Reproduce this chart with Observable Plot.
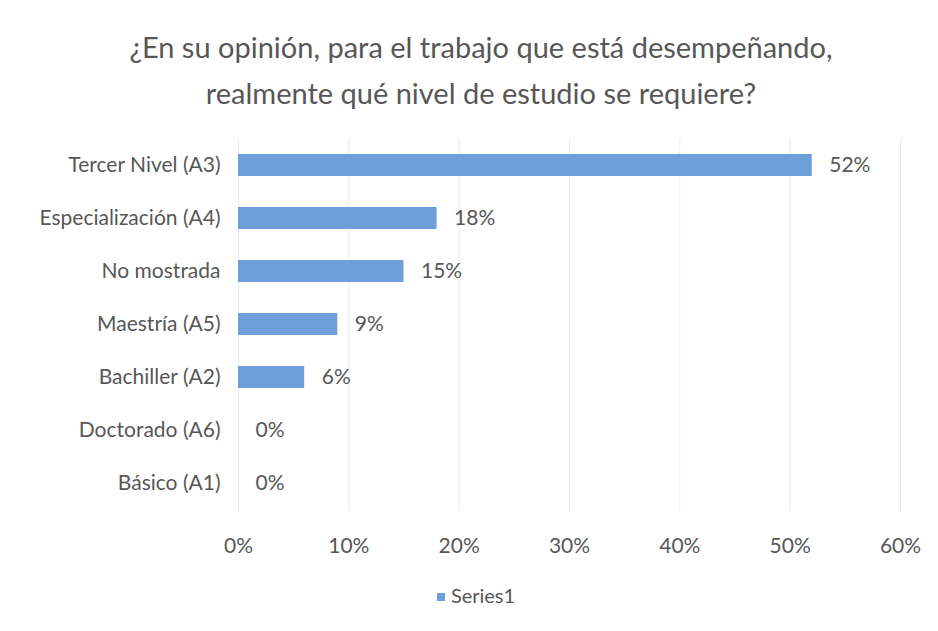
<!DOCTYPE html>
<html>
<head>
<meta charset="utf-8">
<script src="https://cdn.jsdelivr.net/npm/d3@7"></script>
<script src="https://cdn.jsdelivr.net/npm/@observablehq/plot@0.6"></script>
<style>
  html, body { margin: 0; padding: 0; background: #fff; }
  #wrap { position: relative; width: 938px; height: 631px; font-family: Lato, "Open Sans", sans-serif; color: #575757; }
  #title { position: absolute; left: 12px; top: 24px; width: 938px; text-align: center; font-size: 29px; line-height: 46px; }
  #chart { position: absolute; left: 0; top: 115px; }
  #legend { position: absolute; left: 7px; top: 582px; width: 938px; text-align: center; font-size: 20px; line-height: 26px; }
  #legend .sw { display: inline-block; width: 8px; height: 8px; background: #6f9fd8; margin-right: 6px; vertical-align: middle; position: relative; top: -1px; }
</style>
</head>
<body>
<div id="wrap">
  <div id="title">¿En su opinión, para el trabajo que está desempeñando,<br>realmente qué nivel de estudio se requiere?</div>
  <div id="chart"></div>
  <div id="legend"><span class="sw"></span>Series1</div>
</div>
<script>
const categories = ["Tercer Nivel (A3)", "Especialización (A4)", "No mostrada", "Maestría (A5)", "Bachiller (A2)", "Doctorado (A6)", "Básico (A1)"];
const values = [52, 18, 15, 9, 6, 0, 0];
const xTicks = [0, 10, 20, 30, 40, 50, 60];

const data = categories.map((c, i) => ({cat: c, value: values[i]}));

const chart = Plot.plot({
  width: 938,
  height: 445,
  marginTop: 23,
  marginBottom: 49,
  marginLeft: 238,
  marginRight: 38,
  style: {fontFamily: "Lato, 'Open Sans', sans-serif", fontSize: "21px", color: "#575757", background: "#fff"},
  x: {domain: [0, 60]},
  y: {domain: categories, paddingInner: 0.58, paddingOuter: 0.29},
  marks: [
    Plot.gridX(xTicks, {stroke: "#d9d9d9", strokeOpacity: 0.5}),
    Plot.barX(data, {x: "value", y: "cat", fill: "#6f9fd8"}),
    Plot.text(data, {x: "value", y: "cat", text: d => d.value + "%", textAnchor: "start", dx: 17, fontSize: 21, fill: "#575757"}),
    Plot.axisY({tickSize: 0, tickPadding: 18, fontSize: 21, fill: "#575757", label: null}),
    Plot.axisX({ticks: xTicks, tickFormat: d => d + "%", tickSize: 0, tickPadding: 27, fontSize: 21, fill: "#575757", label: null})
  ]
});
document.getElementById("chart").appendChild(chart);
</script>
</body>
</html>
